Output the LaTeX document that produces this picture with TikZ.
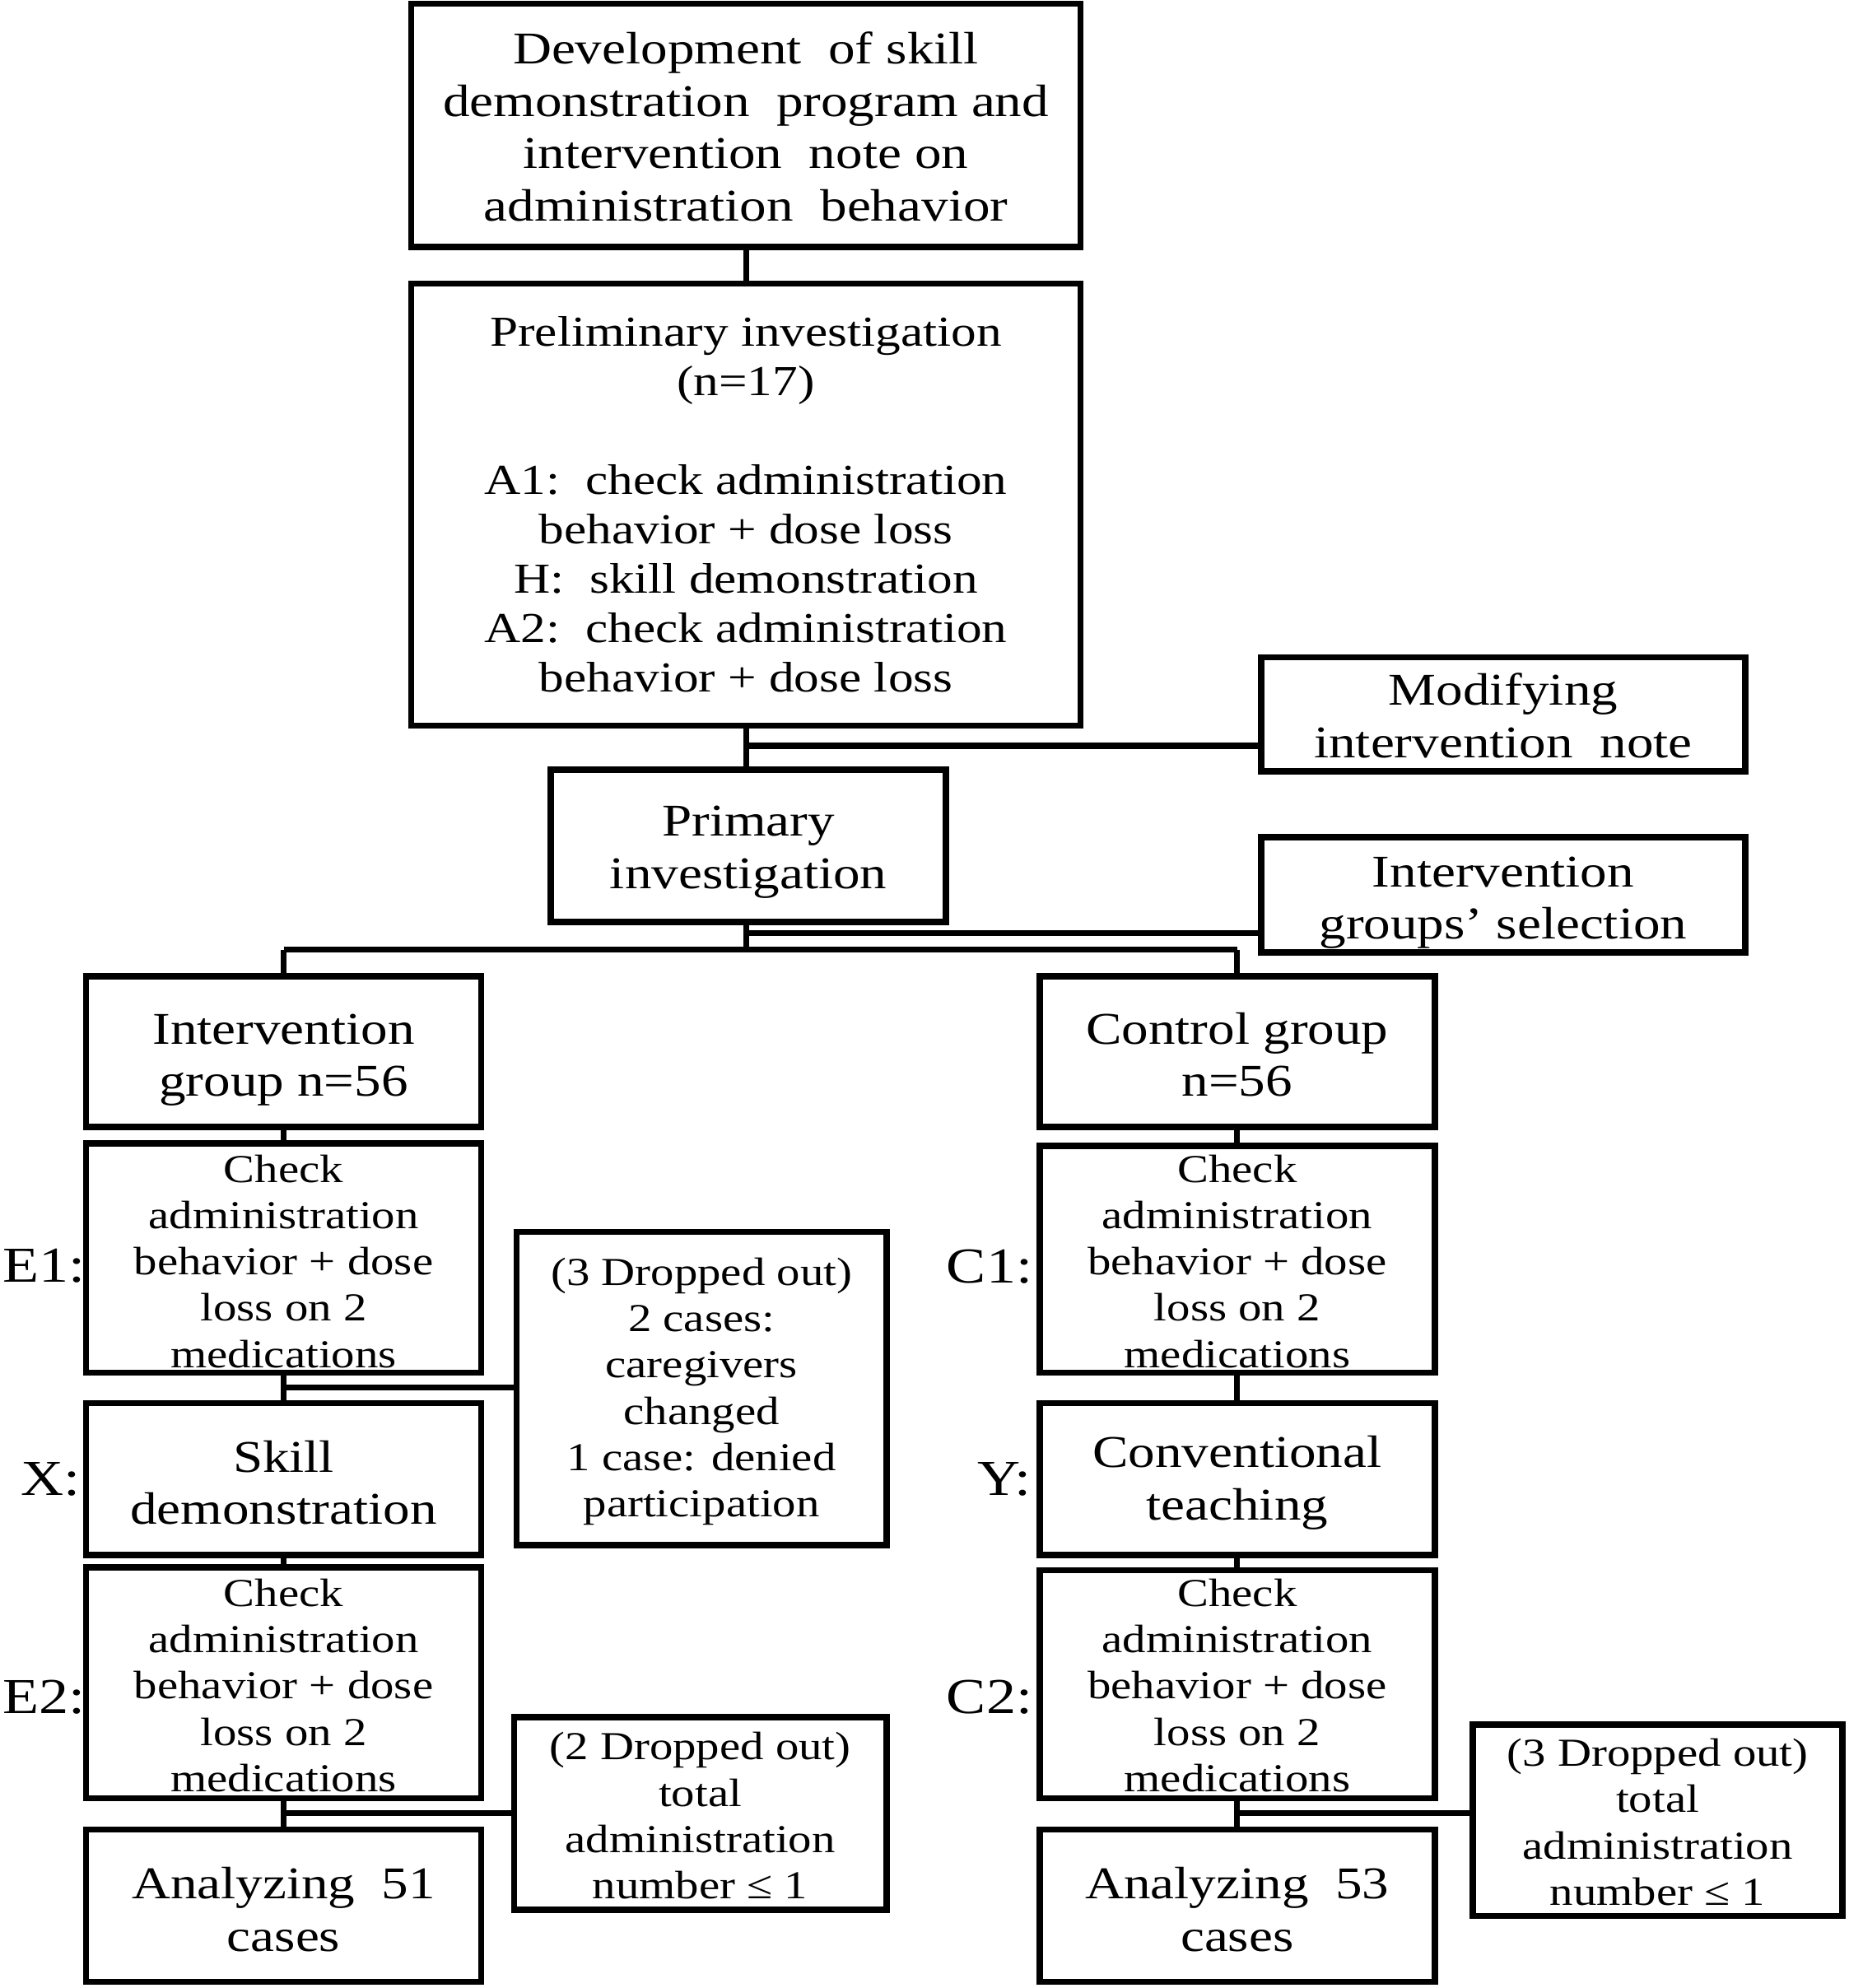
\documentclass[tikz,border=0pt]{standalone}
\usepackage{fontspec}
\setmainfont{Liberation Serif}[FakeStretch=1.18]
\begin{document}
\begin{tikzpicture}[x=0.01cm,y=-0.01cm,
  box/.style={draw=black, line width=1.4pt, fill=white, inner sep=0pt, outer sep=0pt, rectangle},
  conn/.style={draw=black, line width=1.3pt},
  bigtxt/.style={font=\fontsize{10.2}{11.75}\selectfont, align=center, inner sep=0pt},
  pretxt/.style={font=\fontsize{9.6}{11.1}\selectfont, align=center, inner sep=0pt},
  smalltxt/.style={font=\fontsize{8.9}{10.4}\selectfont, align=center, inner sep=0pt},
  lab/.style={font=\fontsize{11.3}{13}\selectfont, inner sep=0pt, anchor=east}]
\useasboundingbox (0,0) rectangle (1460,1570);
\fill[white] (0,0) rectangle (1460,1570);

% boxes
\node[box, minimum width=5.28cm, minimum height=1.92cm] (dev) at (589,99) {};
\node[box, minimum width=5.28cm, minimum height=3.49cm] (pre) at (589,398.5) {};
\node[box, minimum width=3.82cm, minimum height=0.90cm] (mod) at (1187,564) {};
\node[box, minimum width=3.12cm, minimum height=1.20cm] (pri) at (591,668) {};
\node[box, minimum width=3.82cm, minimum height=0.91cm] (sel) at (1187,706.5) {};
\node[box, minimum width=3.12cm, minimum height=1.19cm] (ig) at (224,830.5) {};
\node[box, minimum width=3.12cm, minimum height=1.19cm] (cg) at (977,830.5) {};
\node[box, minimum width=3.12cm, minimum height=1.81cm] (e1) at (224,993.5) {};
\node[box, minimum width=3.12cm, minimum height=1.79cm] (c1) at (977,994.5) {};
\node[box, minimum width=2.92cm, minimum height=2.47cm] (d1) at (554,1096.5) {};
\node[box, minimum width=3.12cm, minimum height=1.20cm] (xb) at (224,1168) {};
\node[box, minimum width=3.12cm, minimum height=1.20cm] (yb) at (977,1168) {};
\node[box, minimum width=3.12cm, minimum height=1.82cm] (e2) at (224,1329) {};
\node[box, minimum width=3.12cm, minimum height=1.80cm] (c2) at (977,1330) {};
\node[box, minimum width=2.94cm, minimum height=1.52cm] (d2) at (553,1432) {};
\node[box, minimum width=3.12cm, minimum height=1.20cm] (a51) at (224,1505) {};
\node[box, minimum width=3.12cm, minimum height=1.20cm] (a53) at (977,1505) {};
\node[box, minimum width=2.92cm, minimum height=1.51cm] (d3) at (1309,1437.5) {};

% connectors
\coordinate (j1) at (589,589);
\coordinate (j2) at (589,737);
\coordinate (j3) at (589,750);
\coordinate (jl) at (224,750);
\coordinate (jr) at (977,750);
\coordinate (je1) at (224,1096);
\coordinate (je2) at (224,1432);
\coordinate (jc2) at (977,1432);
\draw[conn] (dev.south) -- (pre.north);
\draw[conn] (pre.south) -- (pre.south |- pri.north);
\draw[conn] (j1) -- (j1 -| mod.west);
\draw[conn] (pri.south -| j3) -- (j3);
\draw[conn] (j2) -- (j2 -| sel.west);
\draw[conn] (jl) -- (jr);
\draw[conn] (jl) -- (ig.north);
\draw[conn] (jr) -- (cg.north);
\draw[conn] (ig.south) -- (e1.north);
\draw[conn] (e1.south) -- (xb.north);
\draw[conn] (je1) -- (je1 -| d1.west);
\draw[conn] (xb.south) -- (e2.north);
\draw[conn] (e2.south) -- (a51.north);
\draw[conn] (je2) -- (je2 -| d2.west);
\draw[conn] (cg.south) -- (c1.north);
\draw[conn] (c1.south) -- (yb.north);
\draw[conn] (yb.south) -- (c2.north);
\draw[conn] (c2.south) -- (a53.north);
\draw[conn] (jc2) -- (jc2 -| d3.west);

% texts
\node[bigtxt] (tdev) at (589,100) {Development\ \ of skill\\demonstration\ \ program and\\intervention\ \ note on\\administration\ \ behavior};
\node[pretxt] (tpre) at (589,398.5) {Preliminary investigation\\(n=17)\\[11.1pt]A1:\ \ check administration\\behavior + dose loss\\H:\ \ skill demonstration\\A2:\ \ check administration\\behavior + dose loss};
\node[bigtxt] (tmod) at (1187,565) {Modifying\\intervention\ \ note};
\node[bigtxt] (tpri) at (591,673) {Primary\\investigation};
\node[bigtxt] (tsel) at (1187,713) {Intervention\\groups’ selection};
\node[bigtxt] (tig) at (224,837) {Intervention\\group n=56};
\node[bigtxt] (tcg) at (977,833) {Control group\\n=56};
\node[smalltxt] (te1) at (224,996) {Check\\administration\\behavior + dose\\loss on 2\\medications};
\node[smalltxt] (tc1) at (977,996) {Check\\administration\\behavior + dose\\loss on 2\\medications};
\node[smalltxt] (td1) at (554,1099) {(3 Dropped out)\\2 cases:\\caregivers\\changed\\1 case: denied\\participation};
\node[bigtxt] (txb) at (224,1171) {Skill\\demonstration};
\node[bigtxt] (tyb) at (977,1171) {Conventional\\teaching};
\node[smalltxt] (te2) at (224,1331) {Check\\administration\\behavior + dose\\loss on 2\\medications};
\node[smalltxt] (tc2) at (977,1331) {Check\\administration\\behavior + dose\\loss on 2\\medications};
\node[smalltxt] (td2) at (553,1434) {(2 Dropped out)\\total\\administration\\number ≤ 1};
\node[bigtxt] (ta51) at (224,1508) {Analyzing\ \ 51\\cases};
\node[bigtxt] (ta53) at (977,1508) {Analyzing\ \ 53\\cases};
\node[smalltxt] (td3) at (1309,1439) {(3 Dropped out)\\total\\administration\\number ≤ 1};

% side labels
\node[lab] (le1) at (68,1000) {E1:};
\node[lab] (lx) at (64,1168) {X:};
\node[lab] (le2) at (68,1340) {E2:};
\node[lab] (lc1) at (816,1000) {C1:};
\node[lab] (ly) at (815,1168) {Y:};
\node[lab] (lc2) at (816,1340) {C2:};
\end{tikzpicture}
\end{document}
